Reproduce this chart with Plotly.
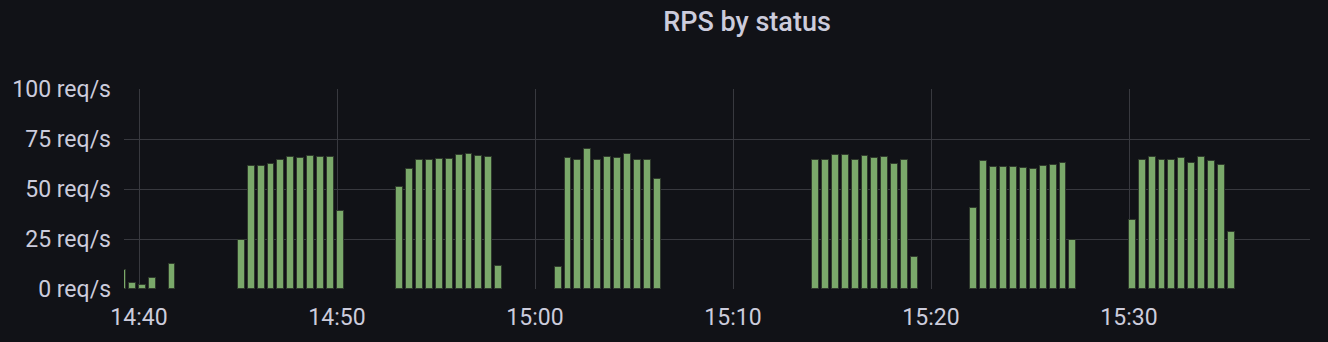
import pandas as pd
import plotly.graph_objects as go

# 30-second buckets from 14:39:10 to 15:35:10
start_time = "2024-01-01 14:39:10"
n_points = 113
times = pd.date_range(start_time, periods=n_points, freq="30s")

N = None
rps = [
    9.5, 3, 2, 5.3, N, 12.7,
    N, N, N, N, N, N,
    24.5, 61.3, 61.3, 62.7, 64.5, 66.2, 65.5, 66.3, 65.8, 65.8, 39,
    N, N, N, N, N,
    51, 60.2, 64.3, 64.3, 65, 65, 67.2, 67.7, 66.7, 66.2, 11.5,
    N, N, N, N, N,
    10.8, 65.3, 64.7, 69.8, 64.3, 66, 65.7, 67.3, 64.3, 64.3, 55,
    N, N, N, N, N, N, N, N, N, N, N, N, N, N, N,
    64.7, 64.5, 66.8, 67.2, 64.3, 66.3, 65.5, 66, 62.5, 64.5, 16,
    N, N, N, N, N,
    40.7, 64, 61, 61.2, 61.2, 60.7, 60.2, 61.7, 62.2, 63, 24.7,
    N, N, N, N, N,
    34.7, 64.7, 66.2, 64.3, 64.3, 65.3, 63.2, 66.2, 64, 62.2, 28.7,
]

x_ticks = ["2024-01-01 14:40", "2024-01-01 14:50", "2024-01-01 15:00",
           "2024-01-01 15:10", "2024-01-01 15:20", "2024-01-01 15:30"]
x_tick_labels = ["14:40", "14:50", "15:00", "15:10", "15:20", "15:30"]
y_ticks = [0, 25, 50, 75, 100]
y_tick_labels = ["0 req/s", "25 req/s", "50 req/s", "75 req/s", "100 req/s"]

BG = "#111217"
TXT = "#ccccdc"
GRID = "#38393f"

fig = go.Figure()
fig.add_trace(go.Bar(
    x=times, y=rps,
    width=21000,
    marker=dict(color="#7aa96a", line=dict(color="#2f3a2c", width=1)),
    showlegend=False,
))

fig.update_layout(
    width=1328, height=342,
    paper_bgcolor=BG, plot_bgcolor=BG,
    margin=dict(l=124, r=18, t=89, b=53),
    font=dict(family="Roboto", color=TXT, size=23),
    title=dict(text="RPS by status", font=dict(family="Roboto", size=27, weight=500, color=TXT),
               x=747 / 1328, xanchor="center", xref="container",
               y=1 - 22 / 342, yanchor="middle", yref="container"),
    bargap=0,
)
fig.update_xaxes(
    range=["2024-01-01 14:39:14.5", "2024-01-01 15:39:08.5"],
    tickvals=x_ticks, ticktext=x_tick_labels,
    showgrid=True, gridcolor=GRID, gridwidth=1,
    zeroline=False, showline=False, ticks="",
    ticklabelstandoff=12,
)
fig.update_yaxes(
    range=[0, 100],
    tickvals=y_ticks, ticktext=y_tick_labels,
    showgrid=True, gridcolor=GRID, gridwidth=1,
    zeroline=False, showline=False, ticks="",
    ticklabelstandoff=12,
)

fig.write_html("out.html")
